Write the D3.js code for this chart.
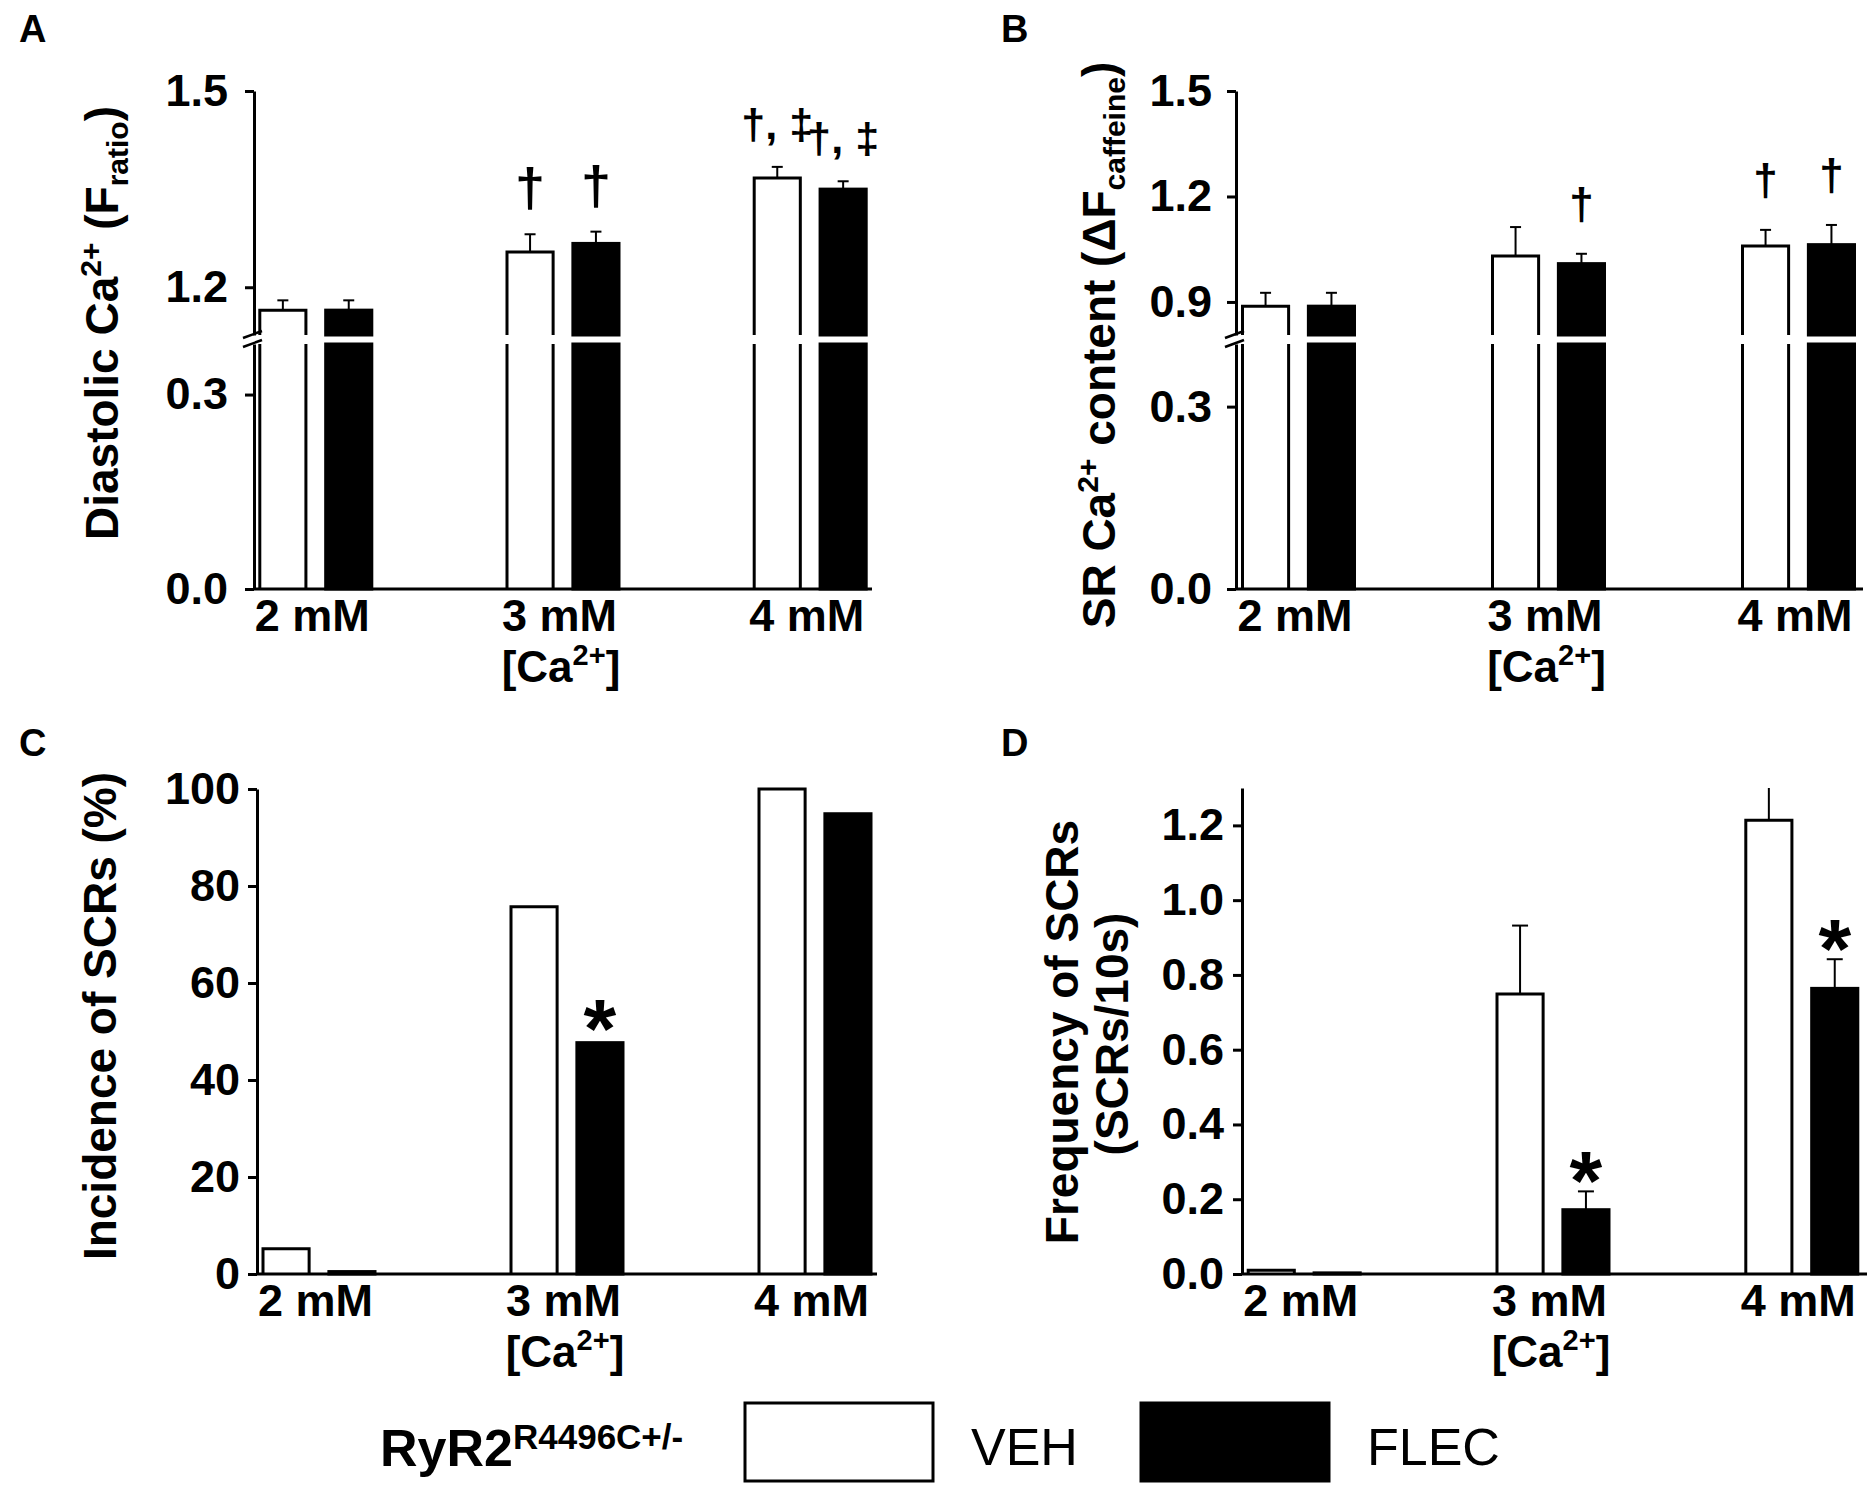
<!DOCTYPE html>
<html>
<head>
<meta charset="utf-8">
<script src="https://cdn.jsdelivr.net/npm/d3@7"></script>
<style>
  body { margin: 0; background: #ffffff; }
  svg { display: block; }
</style>
</head>
<body>
<svg width="1867" height="1487"></svg>
<script>
// values (mean, SEM)
const concentrations = ['2 mM', '3 mM', '4 mM']
const treatments = ['VEH', 'FLEC']

// A: diastolic Ca2+ (F ratio)
const diastolicVEH = [1.165, 1.254, 1.367]
const diastolicVEHSem = [0.015, 0.027, 0.017]
const diastolicFLEC = [1.165, 1.267, 1.350]
const diastolicFLECSem = [0.015, 0.018, 0.012]
const diastolicVEHMarks = ['', '†', '†, ‡']
const diastolicFLECMarks = ['', '†', '†, ‡']

// B: SR Ca2+ content (dF caffeine)
const srVEH = [0.888, 1.031, 1.059]
const srVEHSem = [0.038, 0.082, 0.046]
const srFLEC = [0.888, 1.009, 1.063]
const srFLECSem = [0.038, 0.028, 0.056]
const srVEHMarks = ['', '', '†']
const srFLECMarks = ['', '†', '†']

// C: incidence of SCRs (%)
const incidenceVEH = [5.2, 75.7, 100]
const incidenceFLEC = [0.5, 47.7, 94.9]
const incidenceVEHMarks = ['', '', '']
const incidenceFLECMarks = ['', '*', '']

// D: frequency of SCRs (SCRs/10s)
const freqVEH = [0.010, 0.749, 1.214]
const freqVEHSem = [0, 0.183, 0.12]
const freqFLEC = [0.003, 0.172, 0.764]
const freqFLECSem = [0, 0.049, 0.078]
const freqVEHMarks = ['', '', '']
const freqFLECMarks = ['', '*', '*']

// tick values
const ticksAUpper = [1.2, 1.5]
const ticksALower = [0.0, 0.3]
const ticksBUpper = [0.9, 1.2, 1.5]
const ticksBLower = [0.0, 0.3]
const ticksC = [0, 20, 40, 60, 80, 100]
const ticksD = [0, 0.2, 0.4, 0.6, 0.8, 1.0, 1.2]

const font = "'Liberation Sans', Arial, Helvetica, sans-serif"
const svg = d3.select('svg').style('font-family', font)

// pixel positions of the axis break (top panels)
const breakTop = 335
const breakBottom = 344

function drawPanel(p) {
  const g = svg.append('g').attr('class', 'panel')

  const x = d3.scalePoint().domain(concentrations).range([p.x0, p.x1]).padding(0.25)
  const inner = d3.scaleBand().domain(treatments).range([-56, 56]).paddingInner(0.3)

  let y, upper, lower
  if (p.upperDomain) {
    upper = d3.scaleLinear().domain(p.upperDomain).range([breakTop, p.yTop])
    lower = d3.scaleLinear().domain(p.lowerDomain).range([p.yBottom, breakBottom])
    y = v => v >= p.upperDomain[0] ? upper(v) : lower(Math.min(v, p.lowerDomain[1]))
  } else {
    y = d3.scaleLinear().domain(p.domain).range([p.yBottom, p.yTop])
  }
  const yMax = p.upperDomain ? p.upperDomain[1] : p.domain[1]

  // one object per bar
  const bars = []
  p.series.forEach(s => {
    concentrations.forEach((c, i) => {
      bars.push({ c: c, t: s.name, v: s.values[i], sem: s.sem ? s.sem[i] : 0, mark: s.marks[i] })
    })
  })
  bars.forEach(d => {
    d.left = x(d.c) + inner(d.t)
    d.w = inner.bandwidth()
    d.cx = d.left + d.w / 2
    // segments [bottom, top] in pixels, split at the break
    if (p.upperDomain && d.v > p.upperDomain[0]) {
      d.segs = [[lower(0), lower(p.lowerDomain[1]), false], [upper(p.upperDomain[0]), upper(d.v), true]]
    } else {
      d.segs = [[y(0), y(d.v), true]]
    }
  })

  const segData = []
  bars.forEach(d => d.segs.forEach(sg => segData.push({ bar: d, y0: sg[0], y1: sg[1], top: sg[2] })))

  // fills
  g.selectAll('rect.seg')
    .data(segData)
    .enter()
    .append('rect')
    .attr('class', 'seg')
    .attr('x', d => d.bar.left)
    .attr('y', d => d.y1)
    .attr('width', d => d.bar.w)
    .attr('height', d => Math.max(0, d.y0 - d.y1))
    .style('fill', d => d.bar.t === 'VEH' ? '#ffffff' : '#000000')
    .style('stroke', d => d.bar.t === 'VEH' ? 'none' : '#000000')
    .style('stroke-width', 3)

  // outlines of the open bars (no line across the break)
  g.selectAll('path.outline')
    .data(segData.filter(d => d.bar.t === 'VEH'))
    .enter()
    .append('path')
    .attr('class', 'outline')
    .attr('d', d => {
      const l = d.bar.left, r = d.bar.left + d.bar.w
      if (d.top) return `M${l},${d.y0}V${d.y1}H${r}V${d.y0}`
      return `M${l},${d.y0}V${d.y1}M${r},${d.y0}V${d.y1}`
    })
    .style('fill', 'none')
    .style('stroke', '#000')
    .style('stroke-width', 3)

  // error bars (upper half only)
  const withErr = bars.filter(d => d.sem > 0)
  withErr.forEach(d => {
    d.errTop = d.v + d.sem
    d.yErr = y(Math.min(d.errTop, yMax))
  })
  g.selectAll('line.err')
    .data(withErr)
    .enter()
    .append('line')
    .attr('class', 'err')
    .attr('x1', d => d.cx).attr('x2', d => d.cx)
    .attr('y1', d => y(d.v)).attr('y2', d => d.yErr)
    .style('stroke', '#000').style('stroke-width', 2)
  g.selectAll('line.cap')
    .data(withErr.filter(d => d.errTop <= yMax))
    .enter()
    .append('line')
    .attr('class', 'cap')
    .attr('x1', d => d.cx - p.capW / 2).attr('x2', d => d.cx + p.capW / 2)
    .attr('y1', d => d.yErr).attr('y2', d => d.yErr)
    .style('stroke', '#000').style('stroke-width', 2)

  // significance marks
  g.selectAll('text.mark')
    .data(bars.filter(d => d.mark))
    .enter()
    .append('text')
    .attr('class', 'mark')
    .attr('x', d => d.cx)
    .attr('y', d => (d.sem > 0 ? d.yErr : y(d.v)) + p.markDy)
    .attr('text-anchor', 'middle')
    .style('font-size', d => (d.mark.length > 1 ? p.markSize * 0.8 : p.markSize) + 'px')
    .style('font-weight', 'bold')
    .text(d => d.mark)

  // y axis
  const styleAxis = sel => {
    sel.attr('font-family', font).attr('font-size', 45).attr('font-weight', 'bold')
    sel.selectAll('path, line').style('stroke', '#000').style('stroke-width', 3)
    sel.selectAll('text').style('fill', '#000')
  }
  const fmt = p.tickFormat
  if (p.upperDomain) {
    g.append('g')
      .attr('transform', `translate(${p.x0},0)`)
      .call(d3.axisLeft(upper).tickValues(p.ticksUpper).tickFormat(fmt).tickSize(9).tickSizeOuter(0).tickPadding(p.tickPad))
      .call(styleAxis)
    g.append('g')
      .attr('transform', `translate(${p.x0},0)`)
      .call(d3.axisLeft(lower).tickValues(p.ticksLower).tickFormat(fmt).tickSize(9).tickSizeOuter(0).tickPadding(p.tickPad))
      .call(styleAxis)
    // break marks on the axis
    g.selectAll('line.brk')
      .data([breakTop + 3, breakBottom + 3])
      .enter()
      .append('line')
      .attr('class', 'brk')
      .attr('x1', p.x0 - 11).attr('y1', d => d)
      .attr('x2', p.x0 + 8).attr('y2', d => d - 7)
      .style('stroke', '#000').style('stroke-width', 2.5)
  } else {
    g.append('g')
      .attr('transform', `translate(${p.x0},0)`)
      .call(d3.axisLeft(y).tickValues(p.ticks).tickFormat(fmt).tickSize(9).tickSizeOuter(0).tickPadding(p.tickPad))
      .call(styleAxis)
  }

  // x axis
  const xAxis = g.append('g')
    .attr('transform', `translate(0,${p.yBottom})`)
    .call(d3.axisBottom(x).tickSize(0).tickPadding(10))
    .call(styleAxis)
  xAxis.select('path.domain').attr('d', `M${p.x0},0H${p.xEnd}`)
  xAxis.selectAll('text').attr('dx', -4)

  const ca = g.append('text')
    .attr('x', x('3 mM') - 2)
    .attr('y', p.yBottom + 93)
    .attr('text-anchor', 'middle')
    .style('font-size', '44px')
    .style('font-weight', 'bold')
  ca.append('tspan').text('[Ca')
  ca.append('tspan').attr('dy', -17).style('font-size', '29px').text('2+')
  ca.append('tspan').attr('dy', 17).text(']')

  // y title
  p.title(g)

  // panel letter
  g.append('text')
    .attr('x', p.letterX)
    .attr('y', p.letterY)
    .style('font-size', '38px')
    .style('font-weight', 'bold')
    .text(p.letter)
}

// helper for rotated titles with sup/sub parts
function rotatedTitle(g, tx, ty, parts) {
  const t = g.append('text')
    .attr('transform', `translate(${tx},${ty}) rotate(-90)`)
    .attr('text-anchor', 'middle')
    .style('font-size', '46px')
    .style('font-weight', 'bold')
  let shift = 0
  parts.forEach(pt => {
    const target = pt.sup ? -17 : pt.sub ? 10 : 0
    const sp = t.append('tspan').attr('dy', target - shift).text(pt.s)
    if (pt.sup || pt.sub) sp.style('font-size', '30px')
    shift = target
  })
}

drawPanel({
  letter: 'A', letterX: 19, letterY: 42,
  x0: 254, x1: 872, xEnd: 872, yTop: 91, yBottom: 589,
  upperDomain: [1.127, 1.5], lowerDomain: [0, 0.378],
  ticksUpper: ticksAUpper, ticksLower: ticksALower, tickPad: 17,
  tickFormat: d3.format('.1f'), capW: 11, markDy: -28, markSize: 54,
  series: [
    { name: 'VEH', values: diastolicVEH, sem: diastolicVEHSem, marks: diastolicVEHMarks },
    { name: 'FLEC', values: diastolicFLEC, sem: diastolicFLECSem, marks: diastolicFLECMarks }
  ],
  title: g => rotatedTitle(g, 118, 323, [
    { s: 'Diastolic Ca' }, { s: '2+', sup: true }, { s: ' (F' }, { s: 'ratio', sub: true }, { s: ')' }
  ])
})

drawPanel({
  letter: 'B', letterX: 1001, letterY: 42,
  x0: 1236, x1: 1861, xEnd: 1863, yTop: 91, yBottom: 589,
  upperDomain: [0.806, 1.5], lowerDomain: [0, 0.403],
  ticksUpper: ticksBUpper, ticksLower: ticksBLower, tickPad: 15,
  tickFormat: d3.format('.1f'), capW: 11, markDy: -35, markSize: 44,
  series: [
    { name: 'VEH', values: srVEH, sem: srVEHSem, marks: srVEHMarks },
    { name: 'FLEC', values: srFLEC, sem: srFLECSem, marks: srFLECMarks }
  ],
  title: g => rotatedTitle(g, 1115, 345, [
    { s: 'SR Ca' }, { s: '2+', sup: true }, { s: ' content (\u0394F' }, { s: 'caffeine', sub: true }, { s: ')' }
  ])
})

drawPanel({
  letter: 'C', letterX: 19, letterY: 756,
  x0: 257, x1: 877, xEnd: 877, yTop: 789, yBottom: 1274,
  domain: [0, 100], ticks: ticksC, tickPad: 8,
  tickFormat: d3.format('d'), capW: 16, markDy: 15, markSize: 84,
  series: [
    { name: 'VEH', values: incidenceVEH, marks: incidenceVEHMarks },
    { name: 'FLEC', values: incidenceFLEC, marks: incidenceFLECMarks }
  ],
  title: g => rotatedTitle(g, 116, 1016, [{ s: 'Incidence of SCRs (%)' }])
})

drawPanel({
  letter: 'D', letterX: 1001, letterY: 756,
  x0: 1242, x1: 1864, xEnd: 1867, yTop: 788, yBottom: 1274,
  domain: [0, 1.3], ticks: ticksD, tickPad: 9,
  tickFormat: d3.format('.1f'), capW: 16, markDy: 19, markSize: 84,
  series: [
    { name: 'VEH', values: freqVEH, sem: freqVEHSem, marks: freqVEHMarks },
    { name: 'FLEC', values: freqFLEC, sem: freqFLECSem, marks: freqFLECMarks }
  ],
  title: g => {
    rotatedTitle(g, 1078, 1032, [{ s: 'Frequency of SCRs' }])
    rotatedTitle(g, 1128, 1034, [{ s: '(SCRs/10s)' }])
  }
})

// legend
const legend = svg.append('g').attr('class', 'legend')
const legendX = d3.scalePoint().domain(treatments).range([745, 1141])

const geno = legend.append('text')
  .attr('x', 380)
  .attr('y', 1466)
  .style('font-size', '52px')
  .style('font-weight', 'bold')
geno.append('tspan').text('RyR2')
geno.append('tspan').attr('dy', -17).style('font-size', '35px').text('R4496C+/-')

legend.selectAll('rect')
  .data(treatments)
  .enter()
  .append('rect')
  .attr('x', d => legendX(d))
  .attr('y', 1403)
  .attr('width', 188)
  .attr('height', 78)
  .style('fill', d => d === 'VEH' ? '#ffffff' : '#000000')
  .style('stroke', '#000')
  .style('stroke-width', 3)

legend.selectAll('text.key')
  .data(treatments)
  .enter()
  .append('text')
  .attr('class', 'key')
  .attr('x', d => legendX(d) + 226)
  .attr('y', 1465)
  .style('font-size', '52px')
  .text(d => d)
</script>
</body>
</html>
